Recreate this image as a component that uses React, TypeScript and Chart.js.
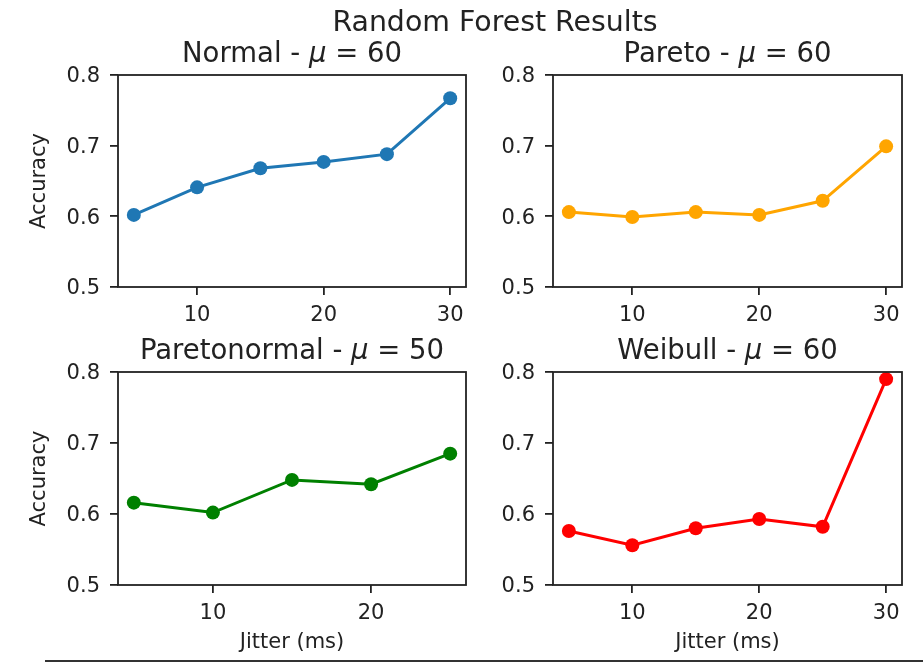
import React, { useEffect, useRef } from "react";
import { Chart, registerables } from "chart.js";

Chart.register(...registerables);

// ---------- data ----------
const jitterSix = [5, 10, 15, 20, 25, 30];
const jitterFive = [5, 10, 15, 20, 25];
const normalAcc = [0.602, 0.641, 0.668, 0.677, 0.688, 0.767];
const paretoAcc = [0.606, 0.599, 0.606, 0.602, 0.622, 0.699];
const paretonormalAcc = [0.616, 0.602, 0.648, 0.642, 0.685];
const weibullAcc = [0.576, 0.556, 0.580, 0.593, 0.582, 0.790];
const yTickValues = [0.5, 0.6, 0.7, 0.8];
const xTicksSix = [10, 20, 30];
const xTicksFive = [10, 20];
const figureTitle = "Random Forest Results";
const yAxisLabel = "Accuracy";
const xAxisLabel = "Jitter (ms)";

// ---------- style ----------
const FONT = "'DejaVu Sans', 'Liberation Sans', sans-serif";
const INK = "#222222";
const TICK_SIZE = 21;
const TITLE_SIZE = 27.5;
const SUPTITLE_SIZE = 28.4;

type PanelDef = {
  key: string;
  name: string;
  mu: string;
  color: string;
  xs: number[];
  ys: number[];
  xTicks: number[];
  showYLabel: boolean;
  showXLabel: boolean;
  box: { left: number; top: number; width: number; height: number };
  area: { left: number; top: number; right: number; bottom: number };
  titleBaseline: number;
};

const panels: PanelDef[] = [
  {
    key: "normal",
    name: "Normal",
    mu: "60",
    color: "#1f77b4",
    xs: jitterSix,
    ys: normalAcc,
    xTicks: xTicksSix,
    showYLabel: true,
    showXLabel: false,
    box: { left: 0, top: 0, width: 480, height: 330 },
    area: { left: 118, top: 75, right: 466, bottom: 287 },
    titleBaseline: 62,
  },
  {
    key: "pareto",
    name: "Pareto",
    mu: "60",
    color: "#ffa500",
    xs: jitterSix,
    ys: paretoAcc,
    xTicks: xTicksSix,
    showYLabel: false,
    showXLabel: false,
    box: { left: 480, top: 0, width: 443, height: 330 },
    area: { left: 553, top: 75, right: 902, bottom: 287 },
    titleBaseline: 62,
  },
  {
    key: "paretonormal",
    name: "Paretonormal",
    mu: "50",
    color: "#008000",
    xs: jitterFive,
    ys: paretonormalAcc,
    xTicks: xTicksFive,
    showYLabel: true,
    showXLabel: true,
    box: { left: 0, top: 330, width: 480, height: 333 },
    area: { left: 118, top: 372, right: 466, bottom: 585 },
    titleBaseline: 358.5,
  },
  {
    key: "weibull",
    name: "Weibull",
    mu: "60",
    color: "#ff0000",
    xs: jitterSix,
    ys: weibullAcc,
    xTicks: xTicksSix,
    showYLabel: false,
    showXLabel: true,
    box: { left: 480, top: 330, width: 443, height: 333 },
    area: { left: 553, top: 372, right: 902, bottom: 585 },
    titleBaseline: 358.5,
  },
];

const framePlugin = {
  id: "axesFrame",
  afterDatasetsDraw(chart: any) {
    const { ctx, chartArea } = chart;
    ctx.save();
    ctx.strokeStyle = INK;
    ctx.lineWidth = 1.8;
    ctx.strokeRect(
      chartArea.left,
      chartArea.top,
      chartArea.right - chartArea.left,
      chartArea.bottom - chartArea.top
    );
    ctx.restore();
  },
};

const panelTitlePlugin = {
  id: "panelTitle",
  afterDraw(chart: any, _args: any, opts: any) {
    if (!opts || !opts.prefix) return;
    const { ctx, chartArea } = chart;
    const normalFont = `${TITLE_SIZE}px ${FONT}`;
    const italicFont = `italic ${TITLE_SIZE}px ${FONT}`;
    ctx.save();
    ctx.fillStyle = INK;
    ctx.textBaseline = "alphabetic";
    ctx.textAlign = "left";
    ctx.font = normalFont;
    const w1 = ctx.measureText(opts.prefix).width;
    const w3 = ctx.measureText(opts.suffix).width;
    ctx.font = italicFont;
    const w2 = ctx.measureText(opts.symbol).width;
    const total = w1 + w2 + w3;
    let x = (chartArea.left + chartArea.right) / 2 - total / 2;
    const y = opts.baseline;
    ctx.font = normalFont;
    ctx.fillText(opts.prefix, x, y);
    x += w1;
    ctx.font = italicFont;
    ctx.fillText(opts.symbol, x, y);
    x += w2;
    ctx.font = normalFont;
    ctx.fillText(opts.suffix, x, y);
    ctx.restore();
  },
};

function Panel({ def }: { def: PanelDef }) {
  const ref = useRef<HTMLCanvasElement | null>(null);

  useEffect(() => {
    if (!ref.current) return;
    const { box, area } = def;
    const xMinData = Math.min(...def.xs);
    const xMaxData = Math.max(...def.xs);
    const margin = (xMaxData - xMinData) * 0.05;

    const chart = new Chart(ref.current, {
      type: "line",
      data: {
        datasets: [
          {
            data: def.xs.map((x, i) => ({ x, y: def.ys[i] })),
            borderColor: def.color,
            backgroundColor: def.color,
            borderWidth: 3,
            pointRadius: 7,
            pointBorderWidth: 0,
            pointBackgroundColor: def.color,
            pointHoverRadius: 7,
            tension: 0,
            clip: false as any,
          },
        ],
      },
      options: {
        animation: false,
        responsive: false,
        maintainAspectRatio: false,
        devicePixelRatio: 1,
        events: [],
        layout: {
          padding: {
            left: 0,
            top: area.top - box.top,
            right: box.left + box.width - area.right,
            bottom: 0,
          },
        },
        plugins: {
          legend: { display: false },
          tooltip: { enabled: false },
          title: { display: false },
          panelTitle: {
            prefix: `${def.name} - `,
            symbol: "μ",
            suffix: ` = ${def.mu}`,
            baseline: def.titleBaseline - box.top,
          },
        } as any,
        scales: {
          x: {
            type: "linear",
            min: xMinData - margin,
            max: xMaxData + margin,
            afterBuildTicks: (s: any) => {
              s.ticks = def.xTicks.map((v) => ({ value: v }));
            },
            afterFit: (s: any) => {
              s.height = box.top + box.height - area.bottom;
            },
            ticks: {
              color: INK,
              font: { family: FONT, size: TICK_SIZE },
              padding: 8,
              maxRotation: 0,
              autoSkip: false,
              callback: (v: any) => String(v),
            },
            grid: {
              drawOnChartArea: false,
              drawTicks: true,
              tickLength: 8,
              color: INK,
              lineWidth: 1.8,
            },
            border: { display: false },
            title: {
              display: def.showXLabel,
              text: xAxisLabel,
              color: INK,
              font: { family: FONT, size: TICK_SIZE },
              padding: { top: 0, bottom: 8 },
            },
          },
          y: {
            type: "linear",
            min: yTickValues[0],
            max: yTickValues[yTickValues.length - 1],
            afterBuildTicks: (s: any) => {
              s.ticks = yTickValues.map((v) => ({ value: v }));
            },
            afterFit: (s: any) => {
              s.width = area.left - box.left;
            },
            ticks: {
              color: INK,
              font: { family: FONT, size: TICK_SIZE },
              padding: 10,
              labelOffset: 2,
              autoSkip: false,
              callback: (v: any) => Number(v).toFixed(1),
            },
            grid: {
              drawOnChartArea: false,
              drawTicks: true,
              tickLength: 8,
              color: INK,
              lineWidth: 1.8,
            },
            border: { display: false },
            title: {
              display: def.showYLabel,
              text: yAxisLabel,
              color: INK,
              font: { family: FONT, size: TICK_SIZE },
              padding: { top: 27, bottom: 0 },
            },
          },
        },
      } as any,
      plugins: [framePlugin, panelTitlePlugin],
    });
    return () => chart.destroy();
  }, [def]);

  const { box } = def;
  return (
    <canvas
      ref={ref}
      width={box.width}
      height={box.height}
      style={{
        position: "absolute",
        left: box.left,
        top: box.top,
        width: box.width,
        height: box.height,
      }}
    />
  );
}

export default function App() {
  return (
    <div
      style={{
        position: "absolute",
        left: 0,
        top: 0,
        width: 923,
        height: 663,
        background: "#ffffff",
        overflow: "hidden",
        fontFamily: FONT,
      }}
    >
      {panels.map((p) => (
        <Panel key={p.key} def={p} />
      ))}
      <div
        style={{
          position: "absolute",
          left: 245,
          width: 500,
          top: 8,
          height: SUPTITLE_SIZE,
          lineHeight: `${SUPTITLE_SIZE}px`,
          fontSize: SUPTITLE_SIZE,
          textAlign: "center",
          color: INK,
          whiteSpace: "nowrap",
        }}
      >
        {figureTitle}
      </div>
      <div
        style={{
          position: "absolute",
          left: 45,
          top: 660,
          width: 878,
          height: 2,
          background: "#333333",
        }}
      />
    </div>
  );
}
